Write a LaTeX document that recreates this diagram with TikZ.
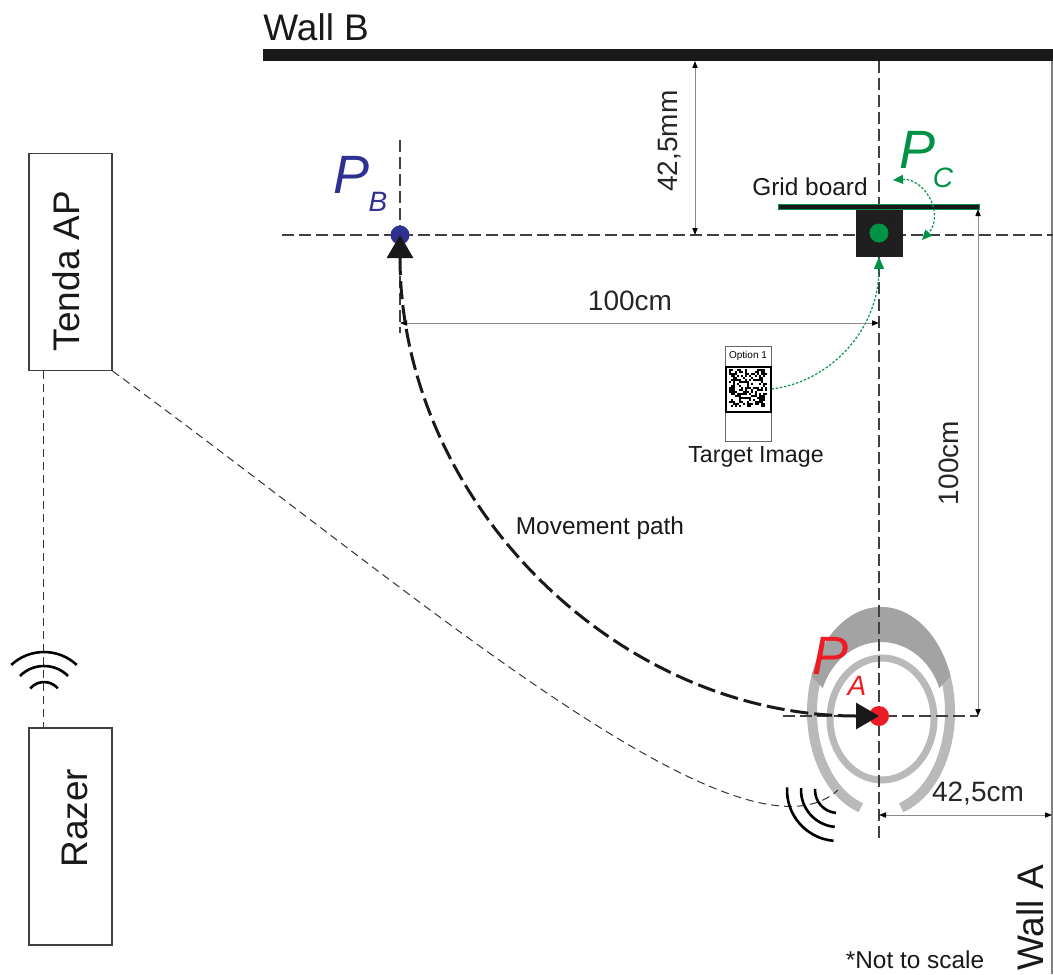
\documentclass[tikz,border=0pt]{standalone}
\usepackage{fontspec}
\setmainfont{Liberation Sans}
\usetikzlibrary{arrows.meta}

\definecolor{pblue}{RGB}{46,49,146}
\definecolor{pgreen}{RGB}{0,146,69}
\definecolor{pred}{RGB}{237,28,36}
\definecolor{shell}{RGB}{185,185,185}
\definecolor{shelldk}{RGB}{163,163,163}

\begin{document}
\begin{tikzpicture}[
  x=0.5pt, y=-0.5pt,
  axis/.style   ={black!75, line width=0.6pt, dash pattern=on 6pt off 2.5pt},
  link/.style   ={black!80, line width=0.5pt, dash pattern=on 4pt off 2.5pt},
  sig/.style    ={black, line width=1.3pt},
  dim/.style    ={black!45, line width=0.5pt,
                  {Triangle[length=3.5pt,width=2.6pt,color=black]}-{Triangle[length=3.5pt,width=2.6pt,color=black]}},
  dimtxt/.style ={font=\fontsize{14}{16}\selectfont, text=black!85, inner sep=0pt},
  title/.style  ={font=\fontsize{18.5}{22}\selectfont, text=black!90, inner sep=0pt},
  small/.style  ={font=\fontsize{12.2}{14}\selectfont, text=black!90, inner sep=0pt},
  wall/.style   ={rectangle, fill=black!90, minimum width=395pt, minimum height=6pt, inner sep=0pt},
  devbox/.style ={rectangle, draw=black!75, line width=0.6pt, minimum width=41.5pt,
                  minimum height=108.5pt, inner sep=0pt},
  dot/.style    ={circle, inner sep=0pt},
  board/.style  ={rectangle, fill=black!88, minimum size=23.5pt, inner sep=0pt},
  gridbar/.style={rectangle, fill=black!90, draw=pgreen, line width=0.4pt,
                  minimum width=100.5pt, minimum height=2.5pt, inner sep=0pt},
  tgt/.style    ={rectangle, draw=black!60, line width=0.5pt, minimum width=23pt,
                  minimum height=47.5pt, inner sep=0pt},
  qrframe/.style={rectangle, draw=black, line width=1pt, minimum size=22.5pt, inner sep=0pt},
  gpath/.style  ={pgreen, line width=0.6pt, dash pattern=on 1.2pt off 0.9pt},
  mpath/.style  ={black!90, line width=1.5pt, dash pattern=on 9pt off 3pt,
                  {Triangle[length=11.5pt,width=13pt]}-{Triangle[length=11.5pt,width=13pt]}},
  plbl/.style   ={font=\fontsize{27}{30}\selectfont\itshape, inner sep=0pt},
  sublbl/.style ={font=\fontsize{14}{16}\selectfont\itshape, inner sep=0pt},
]
\useasboundingbox (0,0) rectangle (1053,974);

% ---------------- walls ----------------
\node[wall] (wallb) at (658,55) {};
\node[title, anchor=base west] (wallblbl) at (263,41) {Wall B};
\draw[black!50, line width=0.6pt] (1052,61) -- (1052,974);
\node[title, rotate=90] (wallalbl) at (1030,918) {Wall A};

% ---------------- headset around P_A ----------------
\draw[shell, line width=5pt] (881,712) ++(107:69 and 100)
  arc[start angle=107, end angle=433, x radius=69, y radius=100];
\fill[shelldk] (811.5,676.1) arc[start angle=200, end angle=340, x radius=74, y radius=105]
  -- (939.3,688.1) arc[start angle=340, end angle=200, x radius=62, y radius=70] -- cycle;
\draw[shell, line width=3.5pt] (882,719) ellipse[x radius=52, y radius=61];

% ---------------- reference axes ----------------
\draw[axis] (282,235) -- (1053,235);
\draw[axis] (400,140) -- (400,333);
\draw[axis] (879,61) -- (879,840);
\draw[axis] (783,716) -- (978,716);

% ---------------- devices ----------------
\node[devbox] (tenda) at (70.5,262) {};
\node[title, rotate=90] (tendalbl) at (66,271) {Tenda AP};
\node[devbox] (razer) at (70.5,836.5) {};
\node[title, rotate=90] (razerlbl) at (75,818) {Razer};

\coordinate (hsant) at (838,790);
\draw[link] ([xshift=7.5pt]tenda.south west) -- ([xshift=7.5pt]razer.north west);
\draw[link] (tenda.south east) .. controls (400,580) and (740,880) .. (hsant);

% wifi symbols
\foreach \r/\a in {18/50, 34/45, 48/43}
  \draw[sig] (44,700) ++({270-\a}:\r) arc[start angle=270-\a, end angle=270+\a, radius=\r];
\foreach \r in {23,37,51}
  \draw[sig] (hsant) ++(183:\r) arc[start angle=183, end angle=95, radius=\r];

% ---------------- grid board and points ----------------
\node[gridbar] (bar) at (878.5,206.5) {};
\node[small, anchor=base] (barlbl) at (810,195) {Grid board};
\node[board] (pc) at (879,233) {};
\node[dot, fill=pgreen, minimum size=9.5pt] (pcdot) at (pc) {};
\node[dot, fill=pblue, minimum size=9.5pt] (pb) at (400,235) {};
\node[dot, fill=pred, minimum size=10pt] (pa) at (879,716) {};

\node[plbl, text=pblue] (pbP) at (352,175) {P};
\node[sublbl, text=pblue] (pbsub) at (378,202) {B};
\node[plbl, text=pgreen] (pcP) at (917,150) {P};
\node[sublbl, text=pgreen] (pcsub) at (943,178) {C};
\node[plbl, text=pred] (paP) at (830,656) {P};
\node[sublbl, text=pred] (pasub) at (857,686) {A};

% rotation of the board
\coordinate (rotA) at (893,180);
\coordinate (rotB) at (922,240);
\draw[gpath, {Triangle[length=5pt,width=4.5pt]}-{Triangle[length=5pt,width=4.5pt]}]
  (rotA) .. controls (925,178) and (945,215) .. (rotB);

% ---------------- target image ----------------
\node[tgt] (target) at (748,393.5) {};
\node[font=\fontsize{5}{6}\selectfont, inner sep=0pt] (optlbl) at (748,356) {Option 1};
\node[qrframe] (qr) at (748,389) {};
\pgfmathsetseed{11}
\foreach \i in {0,...,18}
  \foreach \j in {0,...,18} {
    \pgfmathrandominteger{\q}{0}{1}
    \ifnum\q=1 \fill (729+2*\i,369+2*\j) rectangle ++(2,2); \fi
  }
\node[small, font=\fontsize{11.6}{14}\selectfont] (tgtlbl) at (756,457) {Target Image};
\draw[gpath, -{Triangle[length=6pt,width=5pt]}] (qr.east) .. controls (830,382) and (879,330) .. (pc.south);

% ---------------- dimensions ----------------
\coordinate (d1a) at (695,61);  \coordinate (d1b) at (695,235);
\coordinate (d2a) at (400,323); \coordinate (d2b) at (879,323);
\coordinate (d3a) at (978,209); \coordinate (d3b) at (978,716);
\coordinate (d4a) at (879,815); \coordinate (d4b) at (1052,815);
\draw[dim] (d1a) -- (d1b);
\draw[dim] (d2a) -- (d2b);
\draw[dim] (d3a) -- (d3b);
\draw[dim] (d4a) -- (d4b);
\node[dimtxt, rotate=90] (d1lbl) at (670,141) {42,5mm};
\node[dimtxt] (d2lbl) at (630,301) {100cm};
\node[dimtxt, rotate=90] (d3lbl) at (949,463) {100cm};
\node[dimtxt] (d4lbl) at (978,794) {42,5cm};

% ---------------- movement path ----------------
\draw[mpath] (pb.center) .. controls (400,500) and (615,716) .. (pa.center);
\node[small] (mvlbl) at (600,528) {Movement path};

\node[small] (note) at (915,960) {*Not to scale};
\end{tikzpicture}
\end{document}
